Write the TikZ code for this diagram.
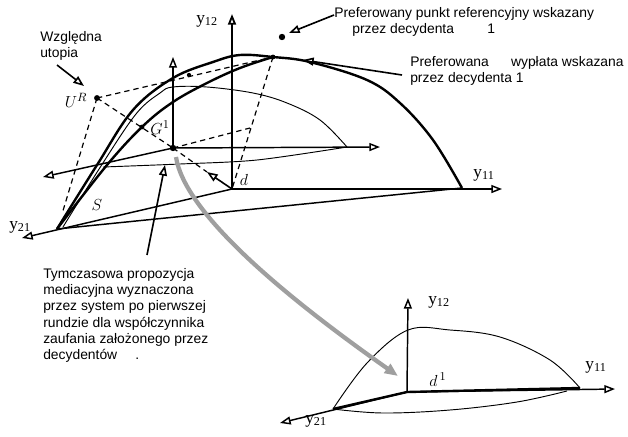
\documentclass[tikz,border=0pt]{standalone}
\usepackage{fontspec}
\setmainfont{Liberation Sans}
\newfontfamily\serifrm{Liberation Serif}
\usetikzlibrary{arrows.meta}
\begin{document}
\begin{tikzpicture}[x=0.75pt,y=-0.75pt,
    axis/.style={line width=1.1pt,-{Triangle[open,length=8pt,width=6pt]}},
    bold/.style={line width=1.8pt},
    thinline/.style={line width=0.7pt},
    guide/.style={line width=0.9pt,dash pattern=on 4pt off 3pt},
    pointer/.style={line width=1.2pt,-{Triangle[open,length=8pt,width=6pt]}},
    note/.style={font=\fontsize{10.4}{12.2}\selectfont,align=left,inner sep=0pt},
    axlabel/.style={font=\serifrm\fontsize{13}{13}\selectfont,inner sep=0pt},
    mathlabel/.style={font=\fontsize{13}{13}\selectfont,inner sep=0pt}]
\useasboundingbox (0,0) rectangle (628,436);

% main system
\coordinate (d) at (232,189);
\coordinate (y12tip) at (232,14);
\coordinate (y11tip) at (502,189);
\coordinate (y21tip) at (22,238);
\coordinate (corner) at (57,229);
\coordinate (payoff) at (273,57);
\coordinate (refpt) at (282,37);
\coordinate (UR) at (97,98);
\coordinate (G) at (142,127);
\coordinate (M) at (173,148);
\coordinate (Mup) at (173,57);
\coordinate (Mright) at (380,147);
\coordinate (Mleft) at (43,177);
\coordinate (K) at (250,128);
\coordinate (Q) at (189,75);
\coordinate (dtip) at (207,172);
\coordinate (basefoot) at (62,214);

\draw[axis,line width=1.4pt] (d) -- (y12tip);
\draw[axis] (d) -- (y11tip);
\draw[axis] (d) -- (y21tip);
\node[axlabel] (l12) at (207,21) {y\textsubscript{12}};
\node[axlabel] (l11) at (484,175) {y\textsubscript{11}};
\node[axlabel] (l21) at (20,227) {y\textsubscript{21}};
\node[mathlabel] (ld) at (244,180) {$d$};
\node[mathlabel] (lS) at (97,205) {$S$};

% shifted system at the proposal
\draw[axis] (M) -- (Mup);
\draw[axis] (M) -- (Mright);
\draw[axis] (M) -- (Mleft);

% set S
\draw[bold] plot[smooth,tension=0.6] coordinates {(57,229) (97,165) (133,110)
  (173,78) (213,62) (240,55) (273,57) (310,62) (367,80) (400,103) (433,140) (462,188)};
\draw[bold] plot[smooth,tension=0.6] coordinates {(57,229) (107,165) (143,126)
  (173,102) (207,83) (240,68) (273,57)};
\draw[line width=1.1pt] (corner) -- (462,188);
\draw[thinline] plot[smooth,tension=0.6] coordinates {(63,227) (101,166) (136,114)
  (160,93) (173,87) (207,87) (253,93) (287,103) (320,120) (347,147)};
\draw[thinline] plot[smooth,tension=0.5] coordinates {(103,167) (180,164) (257,160) (347,147)};

% construction lines
\draw[guide] (UR) -- (payoff);
\draw[guide] (UR) -- (basefoot);
\draw[guide] (UR) -- (M);
\draw[guide] (M) -- (dtip);
\draw[guide] (payoff) -- (d);
\draw[guide] (M) -- (K);
\draw[pointer] (d) -- (dtip);

% points
\fill (UR) circle (2.2pt);
\fill (G) circle (1.8pt);
\fill (M) circle (2.4pt);
\fill (Q) circle (1.6pt);
\fill (payoff) circle (1.8pt);
\fill (refpt) circle (2.4pt);
\node[mathlabel] (lUR) at (76,100) {$U^R$};
\node[mathlabel] (lG) at (160,128) {$G^1$};

% notes
\node[note,anchor=north west] (utopia) at (40,31) {Względna\\utopia};
\coordinate (utopiatail) at (57,65);
\coordinate (utopiatip) at (84,86);
\draw[pointer] (utopiatail) -- (utopiatip);

\node[note,anchor=north west] (refnote) at (334,7) {Preferowany punkt referencyjny wskazany\\\hspace{1.3em}przez decydenta\hspace{2.4em}1};
\coordinate (reftail) at (334,15);
\coordinate (reftip) at (289,33);
\draw[pointer] (reftail) -- (reftip);

\node[note,anchor=north west] (paynote) at (410,56) {Preferowana\hspace{1.6em}wypłata wskazana\\przez decydenta 1};
\coordinate (paytail) at (402,75);
\coordinate (paytip) at (303,60);
\draw[pointer] (paytail) -- (paytip);

\node[note,anchor=north west] (mednote) at (43,268) {Tymczasowa propozycja\\mediacyjna wyznaczona\\przez system po pierwszej\\rundzie dla współczynnika\\zaufania założonego przez\\decydentów\hspace{1.3em}.};
\coordinate (medtail) at (147,255);
\coordinate (medtip) at (165,165);
\draw[pointer] (medtail) -- (medtip);

% lower system after the first round
\coordinate (d1) at (407,392);
\coordinate (d1up) at (408,298);
\coordinate (d1right) at (615,389);
\coordinate (d1left) at (280,423);
\coordinate (end21) at (333,409);
\coordinate (end11) at (580,388);
\draw[axis] (d1) -- (d1up);
\draw[axis] (d1) -- (d1right);
\draw[axis] (d1) -- (d1left);
\draw[bold] (d1) -- (end21);
\draw[bold] (d1) -- (end11);
\draw[thinline] plot[smooth,tension=0.6] coordinates {(333,409) (367,363) (408,330)
  (450,330) (500,337) (550,360) (580,388)};
\draw[thinline] plot[smooth,tension=0.6] coordinates {(333,409) (383,413) (450,410)
  (517,402) (567,391)};
\node[axlabel] (m12) at (439,302) {y\textsubscript{12}};
\node[axlabel] (m11) at (596,367) {y\textsubscript{11}};
\node[axlabel] (m21) at (316,421) {y\textsubscript{21}};
\node[mathlabel] (ld1) at (438,380) {$d^{\,1}$};

% move to the next round
\coordinate (movestart) at (176,157);
\coordinate (moveend) at (398,376);
\draw[gray!75,line width=3.2pt,-{Triangle[length=10pt,width=8pt]}]
  (movestart) .. controls (185,215) and (290,300) .. (moveend);
\end{tikzpicture}
\end{document}
